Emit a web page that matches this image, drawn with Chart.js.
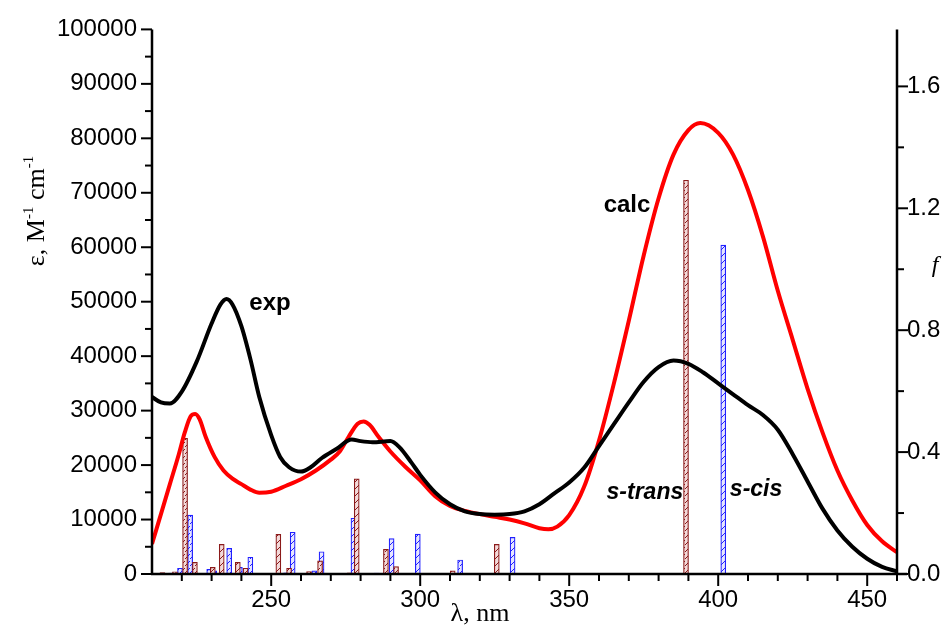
<!DOCTYPE html>
<html>
<head>
<meta charset="utf-8">
<script src="https://cdn.jsdelivr.net/npm/chart.js@4.4.0/dist/chart.umd.min.js"></script>
<style>
  html, body { margin: 0; padding: 0; background: #fff; }
</style>
</head>
<body>
<canvas id="chart" width="950" height="626"></canvas>
<script>
// experimental spectrum (black)
let expNm  = [210, 213, 216, 220, 225, 230, 233, 235, 237, 240, 243, 246, 250, 253, 256, 260, 263, 267, 272, 277,
              280, 284, 290, 293, 297, 300, 305, 310, 315, 320, 325, 330, 335, 340, 345, 350, 355, 360, 365, 370,
              375, 380, 385, 390, 395, 400, 405, 410, 415, 420, 425, 430, 435, 440, 445, 450, 455, 460];
let expEps = [32500, 31500, 31300, 33500, 39000, 46000, 49500, 50500, 49500, 45500, 39500, 32500, 25500, 21500, 19600, 18800, 19500, 21300, 23000, 24700,
              24400, 24200, 24400, 23300, 20500, 18200, 15000, 12800, 11500, 11000, 10900, 11000, 11500, 12800, 14800, 16800, 19500, 23500, 27500, 31500,
              35300, 38000, 39200, 38600, 37000, 35000, 33000, 31000, 29200, 26500, 22000, 17000, 12000, 8000, 5000, 2800, 1300, 500];

// calculated spectrum (red)
let calcNm  = [210, 213, 216, 219, 221, 223, 224.5, 226, 228, 231, 234, 237, 240, 243, 246, 250, 255, 260, 265, 270,
               273, 276, 279, 281, 283, 286, 290, 295, 300, 305, 310, 315, 320, 325, 330, 335, 340, 343, 346, 350,
               355, 360, 365, 370, 375, 380, 385, 390, 394, 400, 405, 410, 415, 420, 425, 430, 435, 440, 445, 450, 455, 460];
let calcEps = [5500, 11000, 16500, 22000, 26000, 29000, 29400, 28400, 25200, 21500, 19000, 17500, 16500, 15500, 14900, 15100, 16200, 17400, 19000, 21000,
               22500, 25200, 27600, 28000, 27400, 25200, 22500, 19700, 17200, 14300, 12500, 11600, 11000, 10500, 10000, 9300, 8400, 8200, 8700, 10800,
               16000, 24500, 35000, 46500, 58500, 69000, 77000, 81500, 82800, 81000, 77000, 70500, 62000, 52000, 43000, 34000, 26000, 19000, 13500, 9000, 6000, 4000];

// oscillator strengths
let transNm = [213.5, 217.7, 221.1, 224.4, 230.4, 233.4, 238.8, 241.4, 252.4, 256.0, 262.7, 266.4, 276.4, 278.7, 288.5, 291.9, 310.9, 325.7, 389.2];
let transF  = [0.005, 0.007, 0.445, 0.038, 0.022, 0.097, 0.038, 0.019, 0.130, 0.019, 0.008, 0.043, 0.004, 0.312, 0.081, 0.024, 0.010, 0.097, 1.292];
let cisNm   = [216.4, 219.4, 222.8, 229.2, 230.9, 235.9, 239.5, 243.0, 255.0, 257.2, 264.5, 266.9, 277.6, 285.4, 290.4, 299.2, 313.4, 331.0, 401.7];
let cisF    = [0.003, 0.019, 0.193, 0.015, 0.010, 0.084, 0.022, 0.055, 0.004, 0.137, 0.010, 0.073, 0.183, 0.003, 0.116, 0.131, 0.046, 0.120, 1.079];

let xTicks  = [250, 300, 350, 400, 450];
let yTicks  = [0, 10000, 20000, 30000, 40000, 50000, 60000, 70000, 80000, 90000, 100000];
let fTicks  = [0, 0.4, 0.8, 1.2, 1.6];

let sans = "'Liberation Sans', Arial, sans-serif";
let serif = "'Liberation Serif', 'Times New Roman', serif";

let toPoints = (xs, ys) => xs.map((v, i) => ({x: v, y: ys[i]}));

let hatch = function(bg, fg) {
    let c = document.createElement('canvas');
    c.width = 5; c.height = 7;
    let g = c.getContext('2d');
    g.fillStyle = bg;
    g.fillRect(0, 0, 5, 7);
    g.strokeStyle = fg;
    g.lineWidth = 1;
    g.beginPath();
    g.moveTo(0, 6); g.lineTo(5, 1);
    g.stroke();
    return g.createPattern(c, 'repeat');
};

let line = function(ctx, x1, y1, x2, y2) {
    ctx.beginPath();
    ctx.moveTo(x1, y1);
    ctx.lineTo(x2, y2);
    ctx.stroke();
};

let axesPlugin = {
    id: 'axes',
    afterDatasetsDraw(chart) {
        let ctx = chart.ctx;
        let a = chart.chartArea;
        let x = chart.scales.x, y = chart.scales.y, y2 = chart.scales.y2;
        ctx.save();
        ctx.strokeStyle = '#000';
        ctx.lineWidth = 2.5;
        line(ctx, a.left, a.top, a.left, a.bottom + 1);
        line(ctx, a.right, a.top, a.right, a.bottom + 1);
        line(ctx, a.left - 1, a.bottom, a.right + 10, a.bottom);

        ctx.lineWidth = 2;
        for (let v = 0; v <= 100000; v += 5000) {
            let py = y.getPixelForValue(v);
            line(ctx, a.left - (v % 10000 === 0 ? 11 : 7), py, a.left, py);
        }
        for (let k = 0; k <= 8; k++) {
            let py = y2.getPixelForValue(k * 0.2);
            line(ctx, a.right, py, a.right + (k % 2 === 0 ? 11 : 7), py);
        }
        for (let v = 220; v <= 460; v += 10) {
            let px = x.getPixelForValue(v);
            line(ctx, px, a.bottom, px, a.bottom + (v % 50 === 0 ? 12 : 7));
        }

        // curve labels
        ctx.fillStyle = '#000';
        ctx.textAlign = 'center';
        ctx.textBaseline = 'middle';
        ctx.font = 'bold 24px ' + sans;
        ctx.fillText('exp', x.getPixelForValue(249.6), y.getPixelForValue(49700));
        ctx.fillText('calc', x.getPixelForValue(369.4), y.getPixelForValue(67700));
        ctx.font = 'italic bold 23px ' + sans;
        ctx.fillText('s-trans', x.getPixelForValue(375.4), y.getPixelForValue(14900));
        ctx.fillText('s-cis', x.getPixelForValue(412.7), y.getPixelForValue(15400));

        // axis titles
        ctx.font = '26px ' + serif;
        ctx.textBaseline = 'alphabetic';
        ctx.fillText('\u03bb, nm', 480, 621);
        ctx.font = 'italic 24px ' + serif;
        ctx.fillText('f', 935, 272);

        ctx.translate(44, 211);
        ctx.rotate(-Math.PI / 2);
        let parts = [['\u03b5, M', 26, 0], ['-1', 15, -11], [' cm', 26, 0], ['-1', 15, -11]];
        let total = 0;
        parts.forEach(p => { ctx.font = p[1] + 'px ' + serif; total += ctx.measureText(p[0]).width; });
        let cx = -total / 2;
        ctx.textAlign = 'left';
        parts.forEach(p => {
            ctx.font = p[1] + 'px ' + serif;
            ctx.fillText(p[0], cx, p[2]);
            cx += ctx.measureText(p[0]).width;
        });
        ctx.restore();
    }
};

let tickFont = {family: sans, size: 24};

new Chart(document.getElementById('chart').getContext('2d'), {
    type: 'line',
    data: {
        datasets: [
            {
                type: 'bar', label: 's-trans', data: toPoints(transNm, transF), yAxisID: 'y2',
                backgroundColor: hatch('#f3dada', '#8b1a1a'), borderColor: '#8b1a1a', borderWidth: 1.2,
                borderSkipped: false, barThickness: 5, grouped: false, order: 3
            },
            {
                type: 'bar', label: 's-cis', data: toPoints(cisNm, cisF), yAxisID: 'y2',
                backgroundColor: hatch('#e6e6ff', '#2020ff'), borderColor: '#2020ff', borderWidth: 1.2,
                borderSkipped: false, barThickness: 5, grouped: false, order: 3
            },
            {
                label: 'calc', data: toPoints(calcNm, calcEps), yAxisID: 'y',
                borderColor: '#ff0000', borderWidth: 4, pointRadius: 0, cubicInterpolationMode: 'monotone',
                fill: false, order: 2
            },
            {
                label: 'exp', data: toPoints(expNm, expEps), yAxisID: 'y',
                borderColor: '#000000', borderWidth: 4, pointRadius: 0, cubicInterpolationMode: 'monotone',
                fill: false, order: 1
            }
        ]
    },
    options: {
        responsive: false,
        animation: false,
        devicePixelRatio: 1,
        layout: {padding: {top: 29, left: 0, right: 0, bottom: 0}},
        plugins: {legend: {display: false}, tooltip: {enabled: false}},
        scales: {
            x: {
                type: 'linear', min: 210, max: 460, offset: false,
                grid: {display: false, drawTicks: false, offset: false}, border: {display: false},
                ticks: {font: tickFont, color: '#000', padding: 12, maxRotation: 0},
                afterBuildTicks: s => { s.ticks = xTicks.map(v => ({value: v})); },
                afterFit: s => { s.height = 52; }
            },
            y: {
                position: 'left', min: 0, max: 100000,
                grid: {display: false, drawTicks: false}, border: {display: false},
                ticks: {font: tickFont, color: '#000', padding: 15, callback: v => String(v)},
                afterBuildTicks: s => { s.ticks = yTicks.map(v => ({value: v})); },
                afterFit: s => { s.width = 152; }
            },
            y2: {
                position: 'right', min: 0, max: 1.787,
                grid: {display: false, drawTicks: false}, border: {display: false},
                ticks: {font: tickFont, color: '#000', padding: 10, callback: v => v.toFixed(1)},
                afterBuildTicks: s => { s.ticks = fTicks.map(v => ({value: v})); },
                afterFit: s => { s.width = 53; }
            }
        }
    },
    plugins: [axesPlugin]
});
</script>
</body>
</html>
